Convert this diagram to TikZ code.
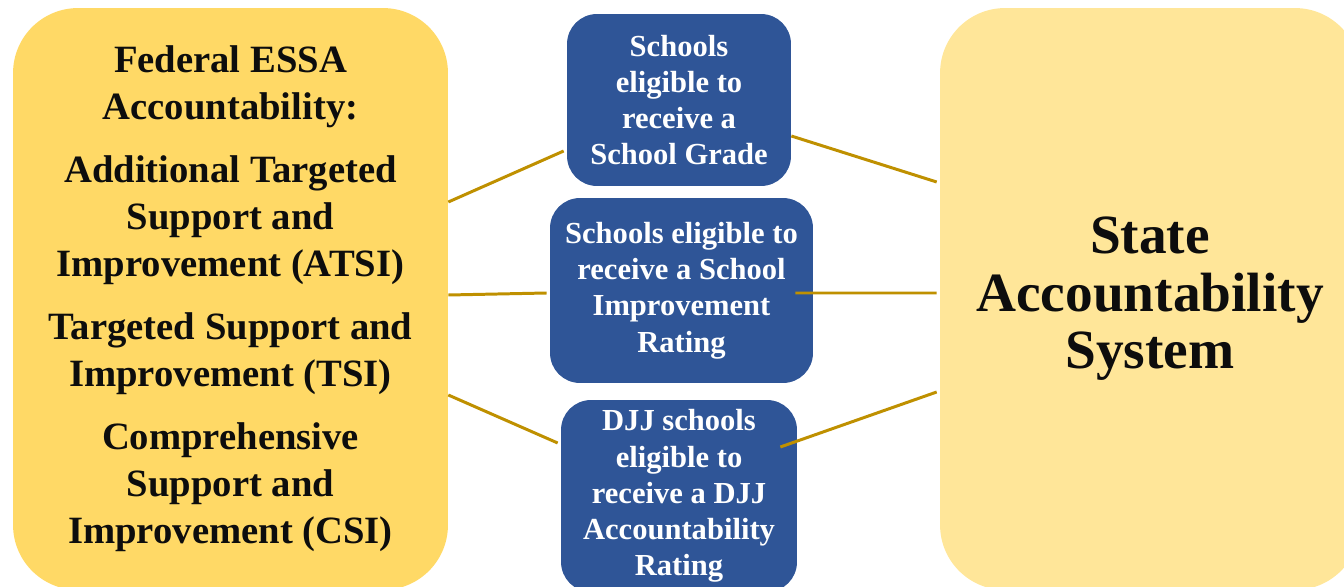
\documentclass[tikz,border=0pt]{standalone}
\usepackage{fontspec}
\setmainfont{Liberation Serif}
\usetikzlibrary{positioning}
\definecolor{fedyellow}{HTML}{FFD966}
\definecolor{stateyellow}{HTML}{FFE699}
\definecolor{schoolblue}{HTML}{2F5597}
\definecolor{linkgold}{HTML}{BF9000}
\tikzset{
  bigbox/.style={rounded corners=1.3cm,inner sep=0pt,align=center,text=black!95},
  bluebox/.style={fill=schoolblue,text=white,rounded corners=0.6cm,inner sep=0pt,align=center,
    font=\bfseries\fontsize{17.4}{20.6}\selectfont},
  link/.style={draw=linkgold,line width=1.7pt}
}
\begin{document}
\begin{tikzpicture}[x=0.02cm,y=-0.02cm]
\useasboundingbox (0,0) rectangle (1344,587);
\clip (0,0) rectangle (1344,587);
\node[bigbox,fill=fedyellow,minimum width=8.7cm,minimum height=11.64cm,
  font=\bfseries\fontsize{22}{26.8}\selectfont] (fed) at (230.5,299)
  {Federal ESSA\\Accountability:\\[9pt]Additional Targeted\\Support and\\Improvement (ATSI)\\[9pt]
   Targeted Support and\\Improvement (TSI)\\[9pt]Comprehensive\\Support and\\Improvement (CSI)};
\node[bigbox,fill=stateyellow,minimum width=8.4cm,minimum height=11.64cm,
  font=\bfseries\fontsize{31.5}{32.8}\selectfont] (state) at (1150,299)
  {State\\Accountability\\System};
\node[bluebox,minimum width=4.48cm,minimum height=3.44cm] (grade) at (679,100)
  {Schools\\eligible to\\receive a\\School Grade};
\node[bluebox,minimum width=5.26cm,minimum height=3.7cm] (rating) at (681.5,290.5)
  {Schools eligible to\\receive a School\\Improvement\\Rating};
\node[bluebox,minimum width=4.72cm,minimum height=3.84cm] (djj) at (679,496)
  {DJJ schools\\eligible to\\receive a DJJ\\Accountability\\Rating};
\draw[link] ([shift={(0,-97)}]fed.east) -- ([shift={(-3,51)}]grade.west);
\draw[link] ([shift={(0,-4)}]fed.east) -- ([shift={(-3,2.5)}]rating.west);
\draw[link] ([shift={(0,96)}]fed.east) -- ([shift={(-3,-53)}]djj.west);
\draw[link] ([shift={(0,36)}]grade.east) -- ([shift={(-3,-117)}]state.west);
\draw[link] ([shift={(-18,2.5)}]rating.east) -- ([shift={(-3,-6)}]state.west);
\draw[link] ([shift={(-17,-49)}]djj.east) -- ([shift={(-3,93)}]state.west);
\end{tikzpicture}
\end{document}
